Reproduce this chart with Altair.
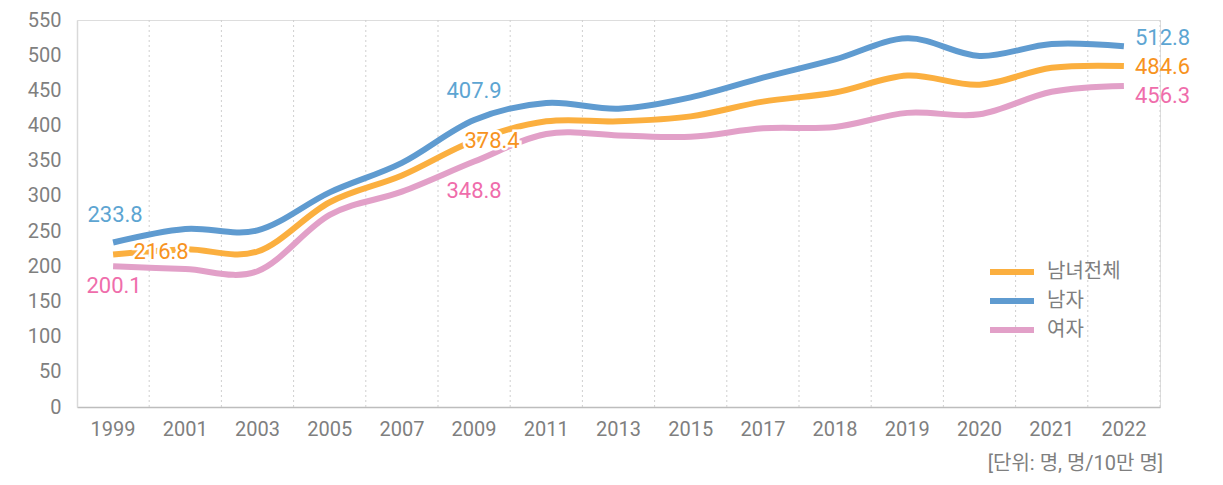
import altair as alt
import pandas as pd

# ---- data ----
years = ["1999", "2001", "2003", "2005", "2007", "2009", "2011", "2013",
         "2015", "2017", "2018", "2019", "2020", "2021", "2022"]
total = [216.8, 224, 221, 291, 329, 378.4, 406, 406, 413, 434, 447, 471, 458, 482, 484.6]
male = [233.8, 253, 251, 305, 347, 407.9, 432, 424, 440, 468, 494, 524, 499, 516, 512.8]
female = [200.1, 196, 193, 273, 306, 348.8, 388, 386, 384, 396, 398, 418, 416, 448, 456.3]
series_names = ["남녀전체", "남자", "여자"]
line_colors = ["#FBAF3F", "#5F9BD0", "#E2A0C8"]
label_colors = ["#F7931E", "#5DA5D2", "#EF6DAB"]
unit_note = "[단위: 명, 명/10만 명]"

rows = []
for name, vals in zip(series_names, [total, male, female]):
    for yr, v in zip(years, vals):
        rows.append({"year": yr, "series": name, "value": v, "label": f"{v:.1f}"})
df = pd.DataFrame(rows)

FONT = "Roboto, 'Noto Sans CJK KR', sans-serif"
GRAY = "#7F7F7F"

x_scale = alt.Scale(type="band", domain=years, paddingInner=0, paddingOuter=0)
y_scale = alt.Scale(domain=[0, 550], nice=False)
color_scale = alt.Scale(domain=series_names, range=line_colors)

x_axis = alt.Axis(title=None, labelAngle=0, labelFontSize=20, labelColor=GRAY,
                  labelFont=FONT, ticks=False, domainColor="#BDBDBD",
                  domainWidth=1.5, labelPadding=12, grid=False)
y_axis = alt.Axis(title=None, values=list(range(0, 551, 50)), labelFontSize=20,
                  labelColor=GRAY, labelFont=FONT, ticks=False,
                  domainColor="#D9D9D9", domainWidth=1.5, grid=False, labelPadding=16)

X = lambda bp: alt.X("year:N", scale=x_scale, bandPosition=bp, axis=x_axis)
Y = alt.Y("value:Q", scale=y_scale, axis=y_axis)

# vertical dotted gridlines at band boundaries
grid_inner = alt.Chart(pd.DataFrame({"year": years[1:]})).mark_rule(
    color="#CFCFCF", strokeDash=[2, 3], strokeWidth=1
).encode(x=X(0))
grid_end = alt.Chart(pd.DataFrame({"year": [years[-1]]})).mark_rule(
    color="#CFCFCF", strokeDash=[2, 3], strokeWidth=1
).encode(x=X(1))

lines = alt.Chart(df).mark_line(strokeWidth=6, interpolate="cardinal").encode(
    x=X(0.5),
    y=Y,
    color=alt.Color(
        "series:N", scale=color_scale, sort=series_names,
        legend=alt.Legend(orient="none", legendX=921, legendY=238, title=None,
                          symbolType="M-2,0H2", symbolSize=484, symbolStrokeWidth=6,
                          labelFontSize=20, labelColor=GRAY, labelFont=FONT,
                          rowPadding=3, labelOffset=21, padding=0),
    ),
)

# value labels: (series index, year, align, dx, dy, halo)
label_specs = [
    (1, "1999", "center", 2, -27, False),
    (0, "1999", "center", 48, -2, True),
    (2, "1999", "center", 1, 20, False),
    (1, "2009", "center", 0, -29, False),
    (0, "2009", "center", 18, 0, True),
    (2, "2009", "center", 0, 29, False),
    (1, "2022", "left", 11, -8, False),
    (0, "2022", "left", 11, 1, False),
    (2, "2022", "left", 11, 10, False),
]

label_layers = []
for si, yr, al, dx, dy, halo in label_specs:
    sub = df[(df["series"] == series_names[si]) & (df["year"] == yr)]
    base = alt.Chart(sub)
    if halo:
        label_layers.append(
            base.mark_text(align=al, baseline="middle", dx=dx, dy=dy, fontSize=22,
                           font=FONT, color="white", stroke="white", strokeWidth=5)
            .encode(x=X(0.5), y=Y, text="label:N")
        )
    label_layers.append(
        base.mark_text(align=al, baseline="middle", dx=dx, dy=dy, fontSize=22,
                       font=FONT, color=label_colors[si])
        .encode(x=X(0.5), y=Y, text="label:N")
    )

chart = alt.layer(grid_inner, grid_end, lines, *label_layers).properties(
    width=1083,
    height=387,
    padding={"left": 69, "top": 12, "right": 55, "bottom": 70},
    autosize=alt.AutoSizeParams(type="none"),
    title=alt.TitleParams(unit_note, orient="bottom", anchor="end", fontSize=20,
                          fontWeight="normal", color=GRAY, font=FONT, offset=15, dx=-27),
).configure_view(stroke=None).configure(background="white")

chart.save("out.html", embed_options={"renderer": "svg", "actions": False})
